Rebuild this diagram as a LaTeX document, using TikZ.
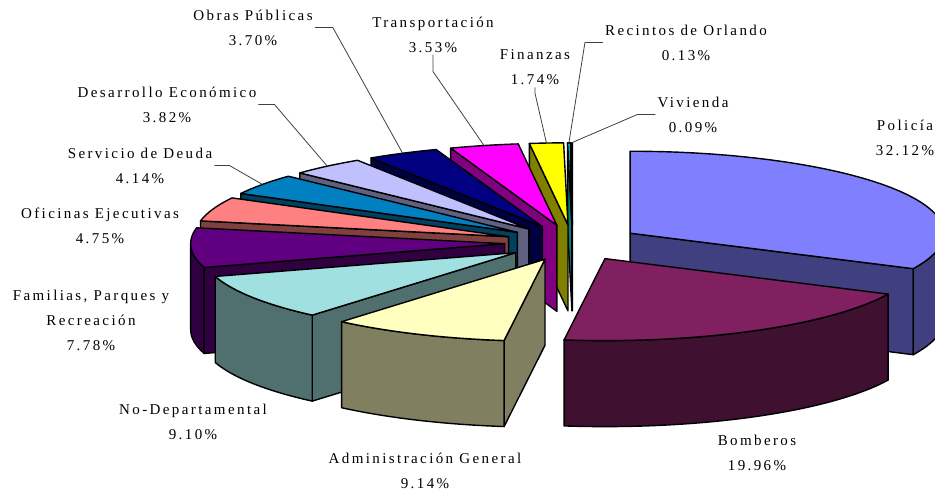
\documentclass[tikz,border=0pt]{standalone}
\usepackage{fontspec}
\setmainfont{Liberation Serif}[LetterSpace=16]
\definecolor{cPol}{HTML}{8080FF}
\definecolor{cBom}{HTML}{802060}
\definecolor{cAdm}{HTML}{FFFFC0}
\definecolor{cNoDep}{HTML}{A0E0E0}
\definecolor{cFam}{HTML}{600080}
\definecolor{cOfi}{HTML}{FF8080}
\definecolor{cSer}{HTML}{0080C0}
\definecolor{cDes}{HTML}{C0C0FF}
\definecolor{cObr}{HTML}{000080}
\definecolor{cTra}{HTML}{FF00FF}
\definecolor{cFin}{HTML}{FFFF00}
\definecolor{cRec}{HTML}{00FFFF}
\definecolor{cViv}{HTML}{800080}
\tikzset{
  rim/.style={draw=black, line width=1.4pt, line join=round},
  lbl/.style={align=center, font=\fontsize{15}{25}\selectfont, inner sep=2pt},
  leader/.style={draw=black!75, line width=0.8pt}
}
% one slice: start angle, end angle (clockwise from 12 o'clock), colour, name
\newcommand{\pieslice}[4]{%
  \pgfmathsetmacro{\angmid}{(#1+#2)/2}
  \pgfmathsetmacro{\apx}{572.6+68*sin(\angmid)}
  \pgfmathsetmacro{\apy}{242.8-18*cos(\angmid)}
  \coordinate (#4-apex) at (\apx,\apy);
  \coordinate (#4-a) at ({\apx+314*sin(#1)},{\apy-82*cos(#1)});
  \coordinate (#4-b) at ({\apx+314*sin(#2)},{\apy-82*cos(#2)});
  \coordinate (#4-tip) at ({\apx+314*sin(\angmid)},{\apy-82*cos(\angmid)});
  \ifdim #1pt>180pt % start wall
    \filldraw[rim, fill=#3!50!black] (#4-apex) -- (#4-a) -- ++(0,86) -- (\apx,\apy+86) -- cycle;
  \fi
  \ifdim #2pt<180pt % end wall
    \filldraw[rim, fill=#3!50!black] (#4-apex) -- (#4-b) -- ++(0,86) -- (\apx,\apy+86) -- cycle;
  \fi
  \pgfmathsetmacro{\rimlo}{max(#1,90)}
  \pgfmathsetmacro{\rimhi}{min(#2,270)}
  \ifdim \rimlo pt<\rimhi pt % outer rim
    \filldraw[rim, fill=#3!50!black] plot[domain=\rimlo:\rimhi, samples=40] ({\apx+314*sin(\x)},{\apy-82*cos(\x)})
      -- plot[domain=\rimhi:\rimlo, samples=40] ({\apx+314*sin(\x)},{\apy-82*cos(\x)+86}) -- cycle;
  \fi
  \filldraw[rim, fill=#3] (#4-apex) -- plot[domain=#1:#2, samples=40] ({\apx+314*sin(\x)},{\apy-82*cos(\x)}) -- cycle;
}
\begin{document}
\begin{tikzpicture}[x=1pt, y=-1pt]
\useasboundingbox (0,0) rectangle (935,490);
\clip (0,0) rectangle (935,490);
% back to front
\foreach \s/\e/\c/\n in {359.68/360/cViv/viv, 359.21/359.68/cRec/rec, 352.94/359.21/cFin/fin,
    340.24/352.94/cTra/tra, 326.92/340.24/cObr/obr, 313.16/326.92/cDes/des, 298.26/313.16/cSer/ser,
    0/115.63/cPol/pol, 281.16/298.26/cOfi/ofi, 253.15/281.16/cFam/fam, 220.39/253.15/cNoDep/nodep,
    115.63/187.49/cBom/bom, 187.49/220.39/cAdm/adm}
  {\pieslice{\s}{\e}{\c}{\n}}

% labels
\node[lbl] (lPol) at (905,137.5) {Policía\\32.12\%};
\node[lbl] (lBom) at (757,453) {Bomberos\\19.96\%};
\node[lbl] (lAdm) at (425,470.5) {Administración General\\9.14\%};
\node[lbl] (lNoDep) at (193,421.5) {No-Departamental\\9.10\%};
\node[lbl] (lFam) at (91,320) {Familias, Parques y\\Recreación\\7.78\%};
\node[lbl] (lOfi) at (100,226) {Oficinas Ejecutivas\\4.75\%};
\node[lbl] (lSer) at (140,165.5) {Servicio de Deuda\\4.14\%};
\node[lbl] (lDes) at (167,104.5) {Desarrollo Económico\\3.82\%};
\node[lbl] (lObr) at (253,27.5) {Obras Públicas\\3.70\%};
\node[lbl] (lTra) at (433,34.5) {Transportación\\3.53\%};
\node[lbl] (lFin) at (535,67.5) {Finanzas\\1.74\%};
\node[lbl] (lRec) at (686,42.5) {Recintos de Orlando\\0.13\%};
\node[lbl] (lViv) at (693,114.5) {Vivienda\\0.09\%};

% leaders
\draw[leader] (lSer.east) -- ++(15,0) -- (ser-tip);
\draw[leader] (lDes.east) -- ++(16,0) -- (des-tip);
\draw[leader] (lObr.east) -- ++(18,0) -- (obr-tip);
\draw[leader] (lTra.south) -- ++(0,17) -- (tra-tip);
\draw[leader] (lFin.south) -- ++(0,6) -- (fin-tip);
\draw[leader] (lRec.west) -- ++(-18,0) -- (rec-tip);
\draw[leader] (lViv.west) -- ++(-18,0) -- (viv-tip);
\end{tikzpicture}
\end{document}
